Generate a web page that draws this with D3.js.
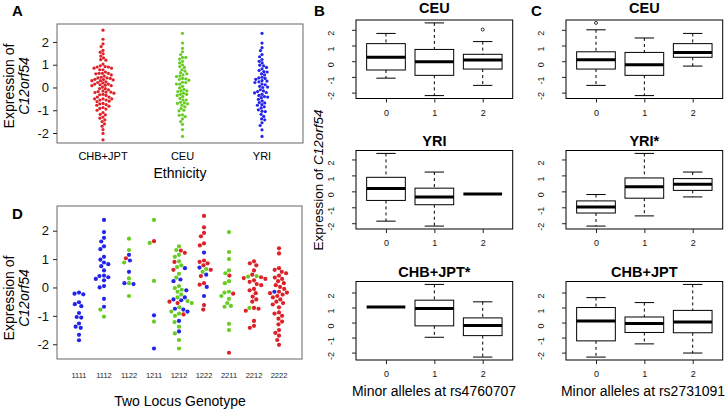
<!DOCTYPE html>
<html><head><meta charset="utf-8">
<script src="https://cdn.jsdelivr.net/npm/d3@7"></script>
<style>body{margin:0;background:#fff} svg{display:block}</style>
</head><body>
<svg id="c" width="725" height="410"></svg>
<script>
// ---------------- DATA ----------------
const ethnicities = ["CHB+JPT", "CEU", "YRI"];
const genotypes = ["1111","1112","1122","1211","1212","1222","2211","2212","2222"];

// Expression of C12orf54 per individual, grouped by two-locus genotype
const exprCHBJPT = {
  "1122": [1.03],
  "1211": [1.63],
  "1212": [1.3,1.22,0.9,0.62,-0.5,-0.55,-0.95],
  "1222": [2.52,2.12,1.92,1.8,1.55,1.48,0.95,0.9,0.85,0.78,0.62,0.4,0.15,0.1,-0.62,-0.78],
  "2211": [0.42,-0.22,-2.3],
  "2212": [0.92,0.85,0.78,0.6,0.45,0.36,0.33,0.3,0.25,0.2,0.12,0.08,-0.05,-0.1,-0.2,-0.32,-0.42,-0.5,-0.72,-0.75,-0.82,-1.18,-1.35,-1.42],
  "2222": [1.38,1.2,0.68,0.62,0.55,0.5,0.42,0.35,0.3,0.22,0.15,0.08,0.02,-0.05,-0.15,-0.18,-0.2,-0.25,-0.3,-0.35,-0.42,-0.5,-0.55,-0.6,-0.7,-0.88,-0.92,-1.0,-1.1,-1.2,-1.3,-1.5,-1.6,-1.7,-1.85,-2.02]
};
const exprCEU = {
  "1112": [-0.78,-1.03],
  "1122": [1.72,1.32,0.88,0.32,0.15,-0.3],
  "1211": [2.38,1.57,0.23,-1.2],
  "1212": [1.45,1.32,1.15,1.08,0.92,0.78,0.72,0.48,0.35,0.05,-0.02,-0.08,-0.15,-0.25,-0.35,-0.48,-0.55,-0.7,-0.85,-0.92,-1.0,-1.22,-1.38,-1.62,-1.85,-2.15],
  "1222": [0.65,0.55],
  "2211": [1.95,1.25,1.0,0.6,0.5,0.22,0.15,-0.15,-0.18,-0.3,-0.4,-0.55,-0.65,-0.68,-1.28,-1.5],
  "2212": [0.4,0.38,-0.72]
};
const exprYRI = {
  "1111": [-0.18,-0.22,-0.24,-0.52,-0.59,-0.66,-0.9,-1.04,-1.06,-1.27,-1.38,-1.42,-1.67,-1.86],
  "1112": [2.38,1.95,1.75,1.62,1.45,1.35,1.08,0.98,0.88,0.82,0.75,0.6,0.42,0.4,0.36,0.3,0.25,0.05,0.0,-0.4,-0.68],
  "1122": [1.15,0.95,0.55,0.15,0.12],
  "1211": [-0.98,-2.15],
  "1212": [0.68,0.28,0.22,-0.1,-0.35,-0.42,-0.45,-0.75,-0.78,-0.85,-1.18,-1.55],
  "1222": [1.23,0.7,0.45,0.02,-0.3],
  "2222": [-0.15]
};

// Boxplot summaries: [lower whisker, Q1, median, Q3, upper whisker] for 0,1,2 minor alleles
const alleleGroups = ["0","1","2"];
const titlesB = ["CEU","YRI","CHB+JPT*"];
const titlesC = ["CEU","YRI*","CHB+JPT"];
const boxB_CEU    = [[-1.08,-0.56,0.25,1.12,1.77],[-2.19,-0.9,-0.04,0.75,2.44],[-1.54,-0.5,0.08,0.44,1.25]];
const boxB_YRI    = [[-1.87,-0.57,0.18,0.88,2.38],[-2.18,-0.84,-0.35,0.2,1.21],[-0.16,-0.16,-0.16,-0.16,-0.16]];
const boxB_CHBJPT = [[1.03,1.03,1.03,1.03,1.03],[-0.98,-0.22,0.94,1.49,2.54],[-2.3,-0.87,-0.2,0.31,1.38]];
const boxC_CEU    = [[-1.54,-0.5,0.1,0.6,2.0],[-2.19,-0.9,-0.23,0.56,1.48],[-0.31,0.25,0.56,1.12,1.77]];
const boxC_YRI    = [[-2.18,-1.36,-0.99,-0.6,-0.2],[-1.54,-0.43,0.29,0.84,2.38],[-0.35,0.06,0.45,0.8,1.21]];
const boxC_CHBJPT = [[-2.3,-1.22,0.11,1.0,1.66],[-1.42,-0.66,-0.07,0.37,1.33],[-2.03,-0.68,0.04,0.81,2.54]];
const outB_CEU = [[],[],[2.02]];
const outC_CEU = [[2.44],[],[]];
const outNone = [[],[],[]];

// ---------------- STYLE ----------------
const FONT = "'Liberation Sans', Arial, sans-serif";
const colorOf = {"CHB+JPT":"#de2128","CEU":"#67cc22","YRI":"#2323ea"};
const exprByEth = {"CHB+JPT":exprCHBJPT, "CEU":exprCEU, "YRI":exprYRI};

const svg = d3.select("#c");

function swarm(pts, d){
  const sorted = pts.slice().sort((a,b)=>a.y - b.y);
  const placed = [];
  for (const p of sorted){
    const cands=[0];
    for (const q of placed){
      const dy=Math.abs(q.y-p.y);
      if (dy<d){const dx=Math.sqrt(d*d-dy*dy); cands.push(q.dx+dx, q.dx-dx);}
    }
    cands.sort((a,b)=>Math.abs(a)-Math.abs(b) || a-b);
    for (const c of cands){
      if (placed.every(q=>(q.dx-c)**2+(q.y-p.y)**2 >= d*d-1e-6)){p.dx=c;break;}
    }
    placed.push(p);
  }
  return placed;
}

function yLabel(x1, x2, cy){
  svg.append("text").attr("transform",`translate(${x1},${cy}) rotate(-90)`)
    .attr("text-anchor","middle").attr("font-family",FONT).attr("font-size",14).text("Expression of");
  svg.append("text").attr("transform",`translate(${x2},${cy}) rotate(-90)`)
    .attr("text-anchor","middle").attr("font-family",FONT).attr("font-size",14)
    .attr("font-style","italic").text("C12orf54");
}
function letter(x,y,t){
  svg.append("text").attr("x",x).attr("y",y).attr("font-family",FONT).attr("font-weight","bold")
    .attr("font-size",15).text(t);
}
function styleAxis(g, fs){
  g.select(".domain").remove();
  g.selectAll(".tick line").attr("stroke","#222");
  g.selectAll(".tick text").attr("font-family",FONT).attr("font-size",fs).attr("fill","#111");
}

// ---------------- PANEL A ----------------
const xA = d3.scalePoint().domain(ethnicities).range([103,262]);
const yA = d3.scaleLinear().domain([-2.44,2.79]).range([143,24]);
svg.append("rect").attr("x",57).attr("y",24).attr("width",246).attr("height",119)
  .attr("fill","none").attr("stroke","#666").attr("stroke-width",1);
svg.append("g").attr("transform","translate(57,0)")
  .call(d3.axisLeft(yA).tickValues([-2,-1,0,1,2]).tickSize(4).tickPadding(4).tickFormat(d=>String(d)))
  .call(g=>styleAxis(g,13));
ethnicities.forEach(e=>{
  const vals = Object.values(exprByEth[e]).flat();
  const pts = swarm(vals.map(v=>({v, y:yA(v)})), 3.3);
  svg.append("g").selectAll("circle").data(pts).join("circle")
    .attr("cx",p=>xA(e)+p.dx).attr("cy",p=>p.y).attr("r",1.6).attr("fill",colorOf[e]);
  svg.append("text").attr("x",xA(e)).attr("y",160).attr("text-anchor","middle")
    .attr("font-family",FONT).attr("font-size",11).text(e);
});
svg.append("text").attr("x",180).attr("y",178).attr("text-anchor","middle")
  .attr("font-family",FONT).attr("font-size",14).text("Ethnicity");
yLabel(14, 29, 86);
letter(12,16,"A");

// ---------------- PANEL D ----------------
const xD = d3.scalePoint().domain(genotypes).range([79,279]);
const yD = d3.scaleLinear().domain([-2.52,2.87]).range([359,206]);
svg.append("rect").attr("x",57).attr("y",206).attr("width",245).attr("height",153)
  .attr("fill","none").attr("stroke","#666").attr("stroke-width",1);
svg.append("g").attr("transform","translate(57,0)")
  .call(d3.axisLeft(yD).tickValues([-2,-1,0,1,2]).tickSize(4).tickPadding(4).tickFormat(d=>String(d)))
  .call(g=>styleAxis(g,13));
genotypes.forEach(gt=>{
  const pts=[];
  ethnicities.forEach(e=>{(exprByEth[e][gt]||[]).forEach(v=>pts.push({v,e,y:yD(v)}));});
  const placed = swarm(pts, 4.6);
  svg.append("g").selectAll("circle").data(placed).join("circle")
    .attr("cx",p=>xD(gt)+p.dx).attr("cy",p=>p.y).attr("r",2.1).attr("fill",p=>colorOf[p.e]);
  svg.append("text").attr("x",xD(gt)).attr("y",378).attr("text-anchor","middle")
    .attr("font-family",FONT).attr("font-size",7.5).attr("fill","#222").text(gt);
});
svg.append("text").attr("x",180).attr("y",406).attr("text-anchor","middle")
  .attr("font-family",FONT).attr("font-size",14).text("Two Locus Genotype");
yLabel(14, 29, 298);
letter(12,219,"D");

// ---------------- PANELS B & C ----------------
const rowTops = [20,150.5,281.5];
const rowH = 78.5;
const colLefts = [356,566];
const colW = 156.7;
const rowsB = [[boxB_CEU,outB_CEU],[boxB_YRI,outNone],[boxB_CHBJPT,outNone]];
const rowsC = [[boxC_CEU,outC_CEU],[boxC_YRI,outNone],[boxC_CHBJPT,outNone]];
const titleBase = [13,146,277];

rowTops.forEach((top,ri)=>{
  const rowVals = [rowsB[ri][0],rowsC[ri][0],rowsB[ri][1],rowsC[ri][1]].flat(2);
  const [mn,mx] = d3.extent(rowVals);
  const pad = (mx-mn)*0.04;
  const y = d3.scaleLinear().domain([mn-pad,mx+pad]).range([top+rowH, top]);
  [[colLefts[0],rowsB[ri],titlesB[ri]],[colLefts[1],rowsC[ri],titlesC[ri]]].forEach(([left,[stats,outs],title])=>{
    const x = d3.scaleLinear().domain([0.38,3.62]).range([left,left+colW]);
    const bw = (x(1.4)-x(1));
    const g = svg.append("g");
    stats.forEach((s,i)=>{
      const cx = x(i+1);
      g.append("line").attr("x1",cx).attr("x2",cx).attr("y1",y(s[4])).attr("y2",y(s[3]))
        .attr("stroke","#000").attr("stroke-dasharray","3,3");
      g.append("line").attr("x1",cx).attr("x2",cx).attr("y1",y(s[1])).attr("y2",y(s[0]))
        .attr("stroke","#000").attr("stroke-dasharray","3,3");
      g.append("line").attr("x1",cx-bw/2).attr("x2",cx+bw/2).attr("y1",y(s[4])).attr("y2",y(s[4])).attr("stroke","#000");
      g.append("line").attr("x1",cx-bw/2).attr("x2",cx+bw/2).attr("y1",y(s[0])).attr("y2",y(s[0])).attr("stroke","#000");
      g.append("rect").attr("x",cx-bw).attr("width",2*bw).attr("y",y(s[3])).attr("height",y(s[1])-y(s[3]))
        .attr("fill","#fff").attr("stroke","#000");
      g.append("line").attr("x1",cx-bw).attr("x2",cx+bw).attr("y1",y(s[2])).attr("y2",y(s[2]))
        .attr("stroke","#000").attr("stroke-width",3);
      outs[i].forEach(o=>g.append("circle").attr("cx",cx).attr("cy",y(o)).attr("r",1.5)
        .attr("fill","none").attr("stroke","#000").attr("stroke-width",0.8));
    });
    g.append("rect").attr("x",left).attr("y",top).attr("width",colW).attr("height",rowH)
      .attr("fill","none").attr("stroke","#000");
    g.append("g").attr("transform",`translate(${left},0)`)
      .call(d3.axisLeft(y).tickValues([-2,-1,0,1,2]).tickSize(4).tickPadding(0).tickFormat(d=>String(d)))
      .call(a=>{styleAxis(a,9);
        a.selectAll(".tick text").attr("x",null).attr("dy",null).attr("text-anchor","middle")
          .attr("transform","translate(-22,3) rotate(-90)");});
    g.append("g").attr("transform",`translate(0,${top+rowH})`)
      .call(d3.axisBottom(x).tickValues([1,2,3]).tickSize(4).tickPadding(7).tickFormat((d,i)=>alleleGroups[i]))
      .call(a=>styleAxis(a,9));
    g.append("text").attr("x",left+colW/2).attr("y",titleBase[ri]).attr("text-anchor","middle")
      .attr("font-family",FONT).attr("font-weight","bold").attr("font-size",14.5).text(title);
  });
});
svg.append("text").attr("x",434).attr("y",396).attr("text-anchor","middle")
  .attr("font-family",FONT).attr("font-size",14).text("Minor alleles at rs4760707");
svg.append("text").attr("x",643).attr("y",396).attr("text-anchor","middle")
  .attr("font-family",FONT).attr("font-size",14).text("Minor alleles at rs2731091");
const ylb = svg.append("text").attr("transform","translate(323,180) rotate(-90)").attr("text-anchor","middle")
  .attr("font-family",FONT).attr("font-size",13.5);
ylb.append("tspan").text("Expression of ");
ylb.append("tspan").attr("font-style","italic").text("C12orf54");
letter(314,16,"B");
letter(531,16,"C");
</script></body></html>
